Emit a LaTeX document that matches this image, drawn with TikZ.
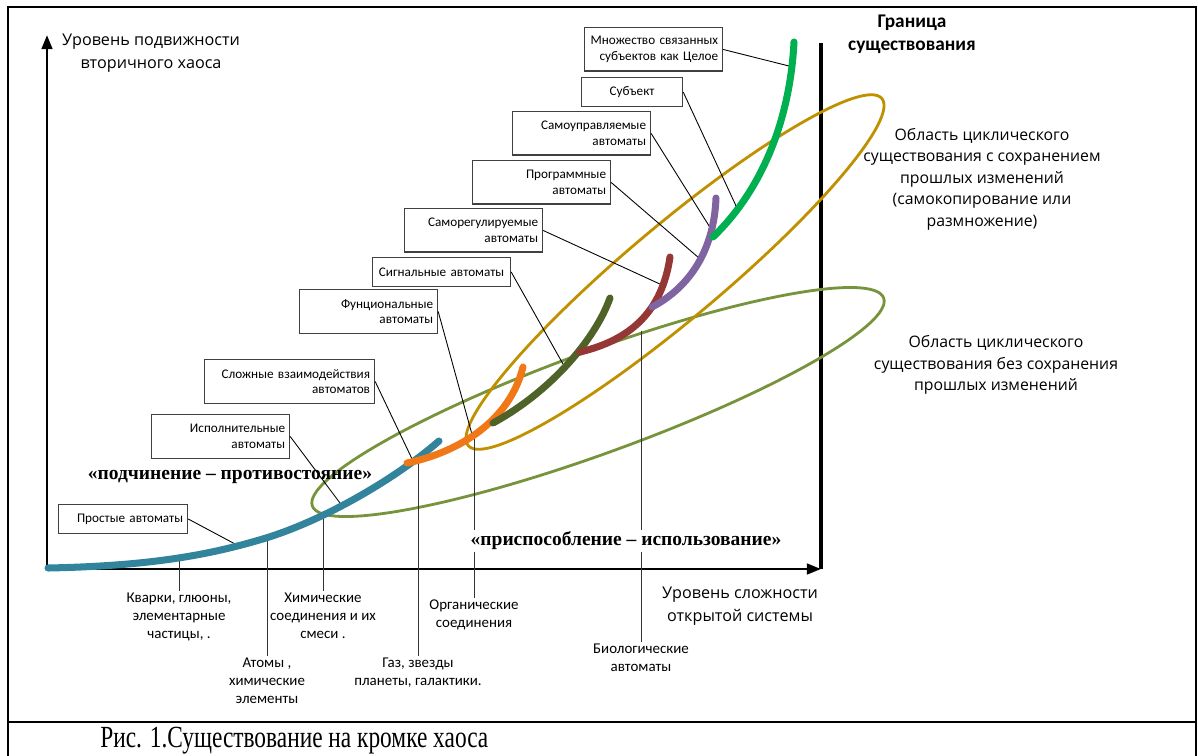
\documentclass[tikz,border=0pt]{standalone}
\usepackage{fontspec}
\setmainfont{Liberation Serif}
\newfontfamily\calfont{Carlito}
\newfontfamily\opfont{Open Sans}
\newfontfamily\capfont[FakeStretch=0.76]{Liberation Serif}
\usepackage{tikz}
\usetikzlibrary{positioning}
\usetikzlibrary{arrows.meta}

\definecolor{tealline}{HTML}{31849B}
\definecolor{orangeline}{HTML}{F07818}
\definecolor{oliveline}{HTML}{4F6228}
\definecolor{redline}{HTML}{953735}
\definecolor{purpleline}{HTML}{8064A2}
\definecolor{greenline}{HTML}{00B050}
\definecolor{goldring}{HTML}{BF9000}
\definecolor{greenring}{HTML}{77933C}

\tikzset{
  autbox/.style={draw=black!75, line width=0.8pt, fill=white, anchor=north west, font=\calfont\fontsize{7.5}{8.8}\selectfont, align=right, inner xsep=2.5pt, inner ysep=0pt},
  twoline/.style={minimum height=0.87cm},
  oneline/.style={minimum height=0.57cm},
  branch/.style={line width=4pt, line cap=round},
  ring/.style={line width=1.6pt},
  leader/.style={line width=0.5pt},
  matlabel/.style={font=\calfont\fontsize{8.5}{10.2}\selectfont, align=center, anchor=north, inner sep=1pt},
  axislabel/.style={font=\opfont\fontsize{9.2}{13}\selectfont, align=center},
  arealabel/.style={font=\opfont\fontsize{9}{12.2}\selectfont, align=center},
  relation/.style={font=\bfseries\fontsize{11.1}{13}\selectfont}
}

\begin{document}
\begin{tikzpicture}[x=0.02cm, y=-0.02cm]
\useasboundingbox (0,0) rectangle (1198,755);

% frame and caption
\draw[line width=1.5pt] (8,760) -- (8,7) -- (1196,7) -- (1196,760);
\draw[line width=1.5pt] (8,722) -- (1196,722);
\node[anchor=base west, inner sep=0pt] (Caption) at (100,747) {\capfont\fontsize{17.5}{19}\selectfont Рис. 1.Существование на кромке хаоса};

% axes
\coordinate (Origin) at (47,569);
\coordinate (YTip) at (47,35);
\coordinate (XTip) at (821,569);
\coordinate (LimitTop) at (821,43);
\draw[line width=1.6pt, -{Triangle[length=8pt, width=6pt]}] (Origin) -- (YTip);
\draw[line width=1.6pt, -{Triangle[length=8pt, width=6pt]}] (Origin) -- (XTip);
\draw[line width=1.8pt] (XTip) -- (LimitTop);
\node[axislabel] (YLabel) at (151,53) {Уровень подвижности\\вторичного хаоса};
\node[axislabel] (XLabel) at (740,606) {Уровень сложности\\открытой системы};
\node[font=\calfont\bfseries\fontsize{11}{13}\selectfont, align=center] (Limit) at (912,34) {Граница\\существования};

% areas
\draw[ring, greenring, rotate around={20:(598,402)}] (598,402) ellipse [x radius=304, y radius=51];
\draw[ring, goldring, rotate around={40:(675,272)}] (675,272) ellipse [x radius=270, y radius=47];
\node[arealabel] (CopyArea) at (982,179) {Область циклического\\существования с сохранением\\прошлых изменений\\(самокопирование или\\размножение)};
\node[arealabel] (PlainArea) at (996,365) {Область циклического\\существования без сохранения\\прошлых изменений};

% boxes
\node[autbox, twoline, text width=2.58cm] (SetBox) at (584,27) {Множество связанных\\субъектов как Целое};
\node[autbox, oneline, text width=1.84cm, align=center] (SubjBox) at (581,77) {Субъект};
\node[autbox, twoline, text width=2.58cm] (SelfBox) at (512,111) {Самоуправляемые\\автоматы};
\node[autbox, twoline, text width=2.58cm] (ProgBox) at (472,160) {Программные\\автоматы};
\node[autbox, twoline, text width=2.58cm] (RegBox) at (404,208) {Саморегулируемые\\автоматы};
\node[autbox, oneline, text width=2.58cm, align=center] (SigBox) at (372,257) {Сигнальные автоматы};
\node[autbox, twoline, text width=2.58cm] (FuncBox) at (299,289) {Фунциональные\\автоматы};
\node[autbox, twoline, text width=3.22cm] (CplxBox) at (204,359) {Сложные взаимодействия\\автоматов};
\node[autbox, twoline, text width=2.58cm] (ExecBox) at (151,414) {Исполнительные\\автоматы};
\node[autbox, oneline, text width=2.40cm] (SimpleBox) at (58,504) {Простые автоматы};

% points on the branches
\coordinate (SetPt) at (789,66);
\coordinate (SubjPt) at (737,208);
\coordinate (SelfPt) at (711,229);
\coordinate (ProgPt) at (699,258);
\coordinate (RegPt) at (662,285);
\coordinate (SigPt) at (563,364);
\coordinate (FuncPt) at (473,438);
\coordinate (CplxPt) at (413,461);
\coordinate (ExecPt) at (340,503);
\coordinate (SimplePt) at (237,545);
\coordinate (QuarkPt) at (179,560);
\coordinate (AtomPt) at (267,538);
\coordinate (ChemPt) at (323,512);
\coordinate (GasPt) at (418,461);
\coordinate (OrgPt) at (474,437);
\coordinate (BioPt) at (641,331);

\draw[leader] (SetBox.east) -- (SetPt);
\draw[leader] (SubjBox.east) -- (SubjPt);
\draw[leader] (SelfBox.east) -- (SelfPt);
\draw[leader] (ProgBox.east) -- (ProgPt);
\draw[leader] (RegBox.east) -- (RegPt);
\draw[leader] (SigBox.east) -- (SigPt);
\draw[leader] (FuncBox.east) -- (FuncPt);
\draw[leader] (CplxBox.east) -- (CplxPt);
\draw[leader] (ExecBox.east) -- (ExecPt);
\draw[leader] (SimpleBox.east) -- (SimplePt);

% matter levels
\node[matlabel] (Quarks) at (179,591) {Кварки, глюоны,\\элементарные\\частицы, .};
\node[matlabel] (Atoms) at (267,656) {Атомы ,\\химические\\элементы};
\node[matlabel] (Chem) at (323,591) {Химические\\соединения и их\\смеси .};
\node[matlabel] (Gas) at (418,656) {Газ, звезды\\планеты, галактики.};
\node[matlabel] (Organic) at (474,598) {Органические\\соединения};
\node[matlabel] (Bio) at (641,642) {Биологические\\автоматы};
\draw[leader, black!80] (QuarkPt) -- (Quarks.north);
\draw[leader, black!80] (AtomPt) -- (Atoms.north);
\draw[leader, black!80] (ChemPt) -- (Chem.north);
\draw[leader, black!80] (GasPt) -- (Gas.north);
\draw[leader, black!80] (OrgPt) -- (Organic.north);
\draw[leader, black!80] (BioPt) -- (Bio.north);

% branches
\draw[branch, tealline] (48,568) .. controls (150,566) and (210,555) .. (266,538) .. controls (330,518) and (400,475) .. (439,441);
\draw[branch, orangeline] (407,463) .. controls (460,452) and (510,420) .. (523,367);
\draw[branch, oliveline] (493,423) .. controls (550,392) and (595,340) .. (610,298);
\draw[branch, redline] (580,352) .. controls (630,340) and (662,312) .. (670,257);
\draw[branch, purpleline] (652,307) .. controls (690,287) and (714,250) .. (716,198);
\draw[branch, greenline] (713,237) .. controls (762,190) and (790,120) .. (794,42);

% relations
\node[relation] (Submission) at (230,477) {«подчинение – противостояние»};
\node[relation, fill=white, inner ysep=1pt] (Adaptation) at (626,541) {«приспособление – использование»};
\end{tikzpicture}
\end{document}
